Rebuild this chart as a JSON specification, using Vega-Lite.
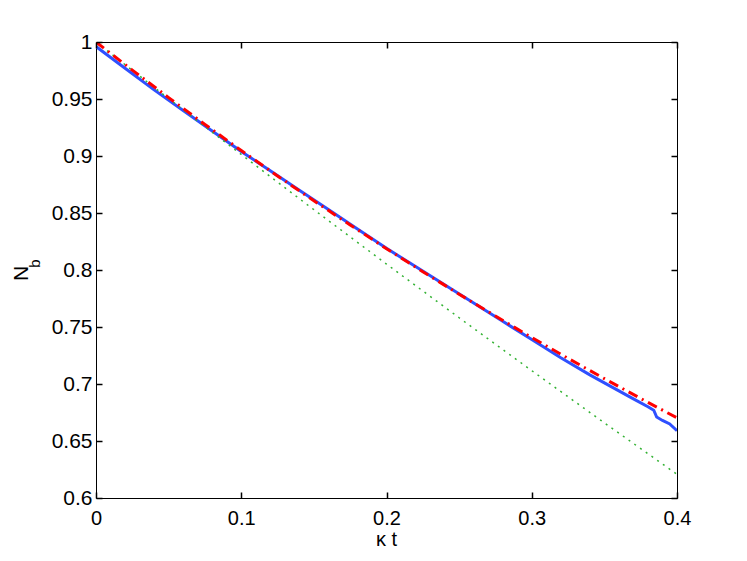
{
  "$schema": "https://vega.github.io/schema/vega-lite/v6.json",
  "width": 581,
  "height": 456,
  "autosize": {"type": "none"},
  "padding": {"left": 96, "top": 42, "right": 70, "bottom": 63},
  "background": "white",
  "config": {
    "font": "Liberation Sans",
    "view": {"stroke": "black", "strokeWidth": 1},
    "axis": {
      "grid": false,
      "domain": false,
      "tickColor": "black",
      "labelColor": "black",
      "titleColor": "black",
      "labelFont": "Liberation Sans",
      "titleFont": "Liberation Sans",
      "titleFontWeight": "normal",
      "labelFontSize": 20,
      "tickWidth": 1
    }
  },
  "datasets": {
    "curves": [
      {"kt": 0.0, "N": 0.996, "s": "blue"},
      {"kt": 0.02, "N": 0.977, "s": "blue"},
      {"kt": 0.04, "N": 0.958, "s": "blue"},
      {"kt": 0.06, "N": 0.940, "s": "blue"},
      {"kt": 0.08, "N": 0.922, "s": "blue"},
      {"kt": 0.1, "N": 0.904, "s": "blue"},
      {"kt": 0.12, "N": 0.887, "s": "blue"},
      {"kt": 0.14, "N": 0.870, "s": "blue"},
      {"kt": 0.16, "N": 0.853, "s": "blue"},
      {"kt": 0.18, "N": 0.836, "s": "blue"},
      {"kt": 0.2, "N": 0.819, "s": "blue"},
      {"kt": 0.22, "N": 0.803, "s": "blue"},
      {"kt": 0.24, "N": 0.787, "s": "blue"},
      {"kt": 0.26, "N": 0.771, "s": "blue"},
      {"kt": 0.28, "N": 0.755, "s": "blue"},
      {"kt": 0.3, "N": 0.739, "s": "blue"},
      {"kt": 0.32, "N": 0.723, "s": "blue"},
      {"kt": 0.34, "N": 0.708, "s": "blue"},
      {"kt": 0.36, "N": 0.694, "s": "blue"},
      {"kt": 0.37, "N": 0.687, "s": "blue"},
      {"kt": 0.38, "N": 0.680, "s": "blue"},
      {"kt": 0.384, "N": 0.677, "s": "blue"},
      {"kt": 0.386, "N": 0.671, "s": "blue"},
      {"kt": 0.39, "N": 0.668, "s": "blue"},
      {"kt": 0.395, "N": 0.665, "s": "blue"},
      {"kt": 0.4, "N": 0.659, "s": "blue"},
      {"kt": 0.0, "N": 1.0, "s": "green"},
      {"kt": 0.05, "N": 0.9503, "s": "green"},
      {"kt": 0.1, "N": 0.9013, "s": "green"},
      {"kt": 0.15, "N": 0.8529, "s": "green"},
      {"kt": 0.2, "N": 0.8052, "s": "green"},
      {"kt": 0.25, "N": 0.7581, "s": "green"},
      {"kt": 0.3, "N": 0.7117, "s": "green"},
      {"kt": 0.35, "N": 0.6659, "s": "green"},
      {"kt": 0.4, "N": 0.6208, "s": "green"},
      {"kt": 0.0, "N": 1.0, "s": "red"},
      {"kt": 0.025, "N": 0.9753, "s": "red"},
      {"kt": 0.05, "N": 0.9512, "s": "red"},
      {"kt": 0.075, "N": 0.9277, "s": "red"},
      {"kt": 0.1, "N": 0.9048, "s": "red"},
      {"kt": 0.125, "N": 0.8825, "s": "red"},
      {"kt": 0.15, "N": 0.8607, "s": "red"},
      {"kt": 0.175, "N": 0.8395, "s": "red"},
      {"kt": 0.2, "N": 0.8187, "s": "red"},
      {"kt": 0.225, "N": 0.7985, "s": "red"},
      {"kt": 0.25, "N": 0.7788, "s": "red"},
      {"kt": 0.275, "N": 0.7596, "s": "red"},
      {"kt": 0.3, "N": 0.7408, "s": "red"},
      {"kt": 0.325, "N": 0.7225, "s": "red"},
      {"kt": 0.35, "N": 0.7047, "s": "red"},
      {"kt": 0.375, "N": 0.6873, "s": "red"},
      {"kt": 0.4, "N": 0.6703, "s": "red"}
    ]
  },
  "data": {"name": "curves"},
  "layer": [
    {
      "transform": [{"filter": "datum.s === 'blue'"}],
      "mark": {"type": "line", "color": "#2f50ff", "strokeWidth": 3, "clip": true},
      "encoding": {
        "x": {
          "field": "kt", "type": "quantitative",
          "scale": {"domain": [0, 0.4], "nice": false, "zero": false},
          "axis": {
            "orient": "bottom",
            "values": [0, 0.1, 0.2, 0.3, 0.4],
            "format": "~g",
            "ticks": false,
            "labelPadding": 10,
            "labelFlush": false,
            "title": "κ t",
            "titleFontSize": 20,
            "titleX": 290,
            "titleY": 47,
            "titleBaseline": "alphabetic"
          }
        },
        "y": {
          "field": "N", "type": "quantitative",
          "scale": {"domain": [0.6, 1], "nice": false, "zero": false},
          "axis": {
            "orient": "left",
            "values": [0.6, 0.65, 0.7, 0.75, 0.8, 0.85, 0.9, 0.95, 1],
            "format": "~g",
            "ticks": false,
            "labelFontSize": 21,
            "labelPadding": 4,
            "labelFlush": false,
            "title": "N",
            "titleFontSize": 21,
            "titleAngle": -90,
            "titleX": -69,
            "titleY": 231,
            "titleAlign": "center",
            "titleBaseline": "alphabetic"
          }
        }
      }
    },
    {
      "transform": [{"filter": "datum.s === 'green'"}],
      "mark": {"type": "line", "color": "#33b233", "strokeWidth": 1.5, "strokeDash": [2, 5], "clip": true},
      "encoding": {
        "x": {
          "field": "kt", "type": "quantitative",
          "axis": {
            "orient": "bottom",
            "values": [0, 0.1, 0.2, 0.3, 0.4],
            "offset": -6,
            "ticks": true,
            "tickSize": 6,
            "tickColor": "black",
            "tickWidth": 1.5,
            "labels": false,
            "zindex": 2,
            "title": null
          }
        },
        "y": {
          "field": "N", "type": "quantitative",
          "axis": {
            "orient": "left",
            "values": [0.6, 0.65, 0.7, 0.75, 0.8, 0.85, 0.9, 0.95, 1],
            "offset": -6,
            "ticks": true,
            "tickSize": 6,
            "tickColor": "black",
            "tickWidth": 1.5,
            "labels": false,
            "zindex": 2,
            "title": "b",
            "titleFontSize": 15,
            "titleAngle": -90,
            "titleX": -63,
            "titleY": 221,
            "titleAlign": "center",
            "titleBaseline": "alphabetic"
          }
        }
      }
    },
    {
      "transform": [{"filter": "datum.s === 'red'"}],
      "mark": {"type": "line", "color": "#ff0000", "strokeWidth": 3, "strokeDash": [10, 5, 2, 5], "clip": true},
      "encoding": {
        "x": {
          "field": "kt", "type": "quantitative",
          "axis": {
            "orient": "top",
            "values": [0, 0.1, 0.2, 0.3, 0.4],
            "offset": -6,
            "ticks": true,
            "tickSize": 6,
            "tickColor": "black",
            "tickWidth": 1.5,
            "labels": false,
            "zindex": 2,
            "title": null
          }
        },
        "y": {
          "field": "N", "type": "quantitative",
          "axis": {
            "orient": "right",
            "values": [0.6, 0.65, 0.7, 0.75, 0.8, 0.85, 0.9, 0.95, 1],
            "offset": -6,
            "ticks": true,
            "tickSize": 6,
            "tickColor": "black",
            "tickWidth": 1.5,
            "labels": false,
            "zindex": 2,
            "title": null
          }
        }
      }
    }
  ],
  "resolve": {"axis": {"x": "independent", "y": "independent"}}
}
